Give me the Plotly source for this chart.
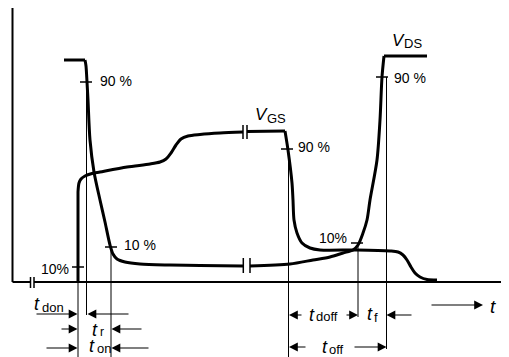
import plotly.graph_objects as go

# ---- waveform data (time units, level units; 0 = baseline) ----
vds_t1 = [64, 85]
vds_v1 = [222, 222]
vds_t2 = [85, 86, 87, 88, 90, 94, 100, 105, 110, 113, 117, 125, 140, 170, 200, 243]
vds_v2 = [222, 216, 200, 182, 142, 110, 82, 60, 37, 28, 23, 20, 18, 17, 16.5, 16]
vds_t3 = [250, 290, 313, 330, 343, 353, 358, 363, 367, 370, 377, 380, 382, 384]
vds_v3 = [16, 18, 22, 25, 29, 32, 37, 49, 62, 82, 122, 162, 205, 226]
vds_t4 = [384, 427]
vds_v4 = [226, 226]

vgs_t1 = [78, 78]
vgs_v1 = [0, 90]
vgs_t2 = [78, 79, 81, 85, 92, 100, 127, 150, 160, 166, 171, 176, 181, 188, 200, 220, 243]
vgs_v2 = [90, 99, 103, 106, 108.5, 110, 115, 118, 120, 123, 129, 137, 143, 146, 147.5, 149, 150]
vgs_t3 = [247, 285]
vgs_v3 = [150.5, 151]
vgs_t4 = [285, 288, 292, 293, 294, 297, 302, 310, 320, 357, 390, 398, 403, 407, 411, 415, 420, 427, 437]
vgs_v4 = [151, 132, 99, 82, 62, 49, 39, 34, 32, 32, 31, 30, 27, 22, 15, 9, 5, 2.5, 2]

# measurement points (time, level) for 10 % / 90 % marks
tick_t = [86, 111, 78, 287, 357, 382]
tick_v = [200, 35, 15, 133, 39, 205]
# vertical reference lines: time, top level, bottom level
ref_t = [78, 86.5, 111, 288.5, 358, 386.5]
ref_top = [15, 200, 35, 133, 39, 205]
ref_bot = [-75, -33, -75, -75, -35, -67]

fig = go.Figure()

def curve(t, v, shape="spline", w=3):
    fig.add_trace(go.Scatter(x=t, y=v, mode="lines",
                             line=dict(color="black", width=w, shape=shape, smoothing=0.8),
                             hoverinfo="skip", showlegend=False, cliponaxis=False))

curve(vds_t1, vds_v1, "linear")
curve(vds_t2, vds_v2)
curve(vds_t3, vds_v3)
curve(vds_t4, vds_v4, "linear")
curve(vgs_t1, vgs_v1, "linear")
curve(vgs_t2, vgs_v2)
curve(vgs_t3, vgs_v3, "linear")
curve(vgs_t4, vgs_v4)

shapes = []
def seg(x0, y0, x1, y1, w=1):
    shapes.append(dict(type="line", x0=x0, y0=y0, x1=x1, y1=y1, xref="x", yref="y",
                       line=dict(color="black", width=w)))

# axes
seg(12.5, 276, 12.5, 0, 2)
seg(12.5, 0, 30.5, 0, 2)
seg(34, 0, 505, 0, 2)
# axis break marks
seg(30.5, 5, 30.5, -6, 1.5)
seg(34, 5, 34, -6, 1.5)
seg(243, 157, 243, 143, 1.5)
seg(247, 157, 247, 143, 1.5)
seg(243.3, 24, 243.3, 9, 1.5)
seg(250, 24, 250, 9, 1.5)
# ticks
for t, v in zip(tick_t, tick_v):
    seg(t - 6, v, t + 6, v, 1.5)
# reference lines
for t, a, b in zip(ref_t, ref_top, ref_bot):
    seg(t, a, t, b, 1)

annotations = []
def arrow(hx, tx, y):
    annotations.append(dict(x=hx, y=y, ax=tx, ay=y, xref="x", yref="y", axref="x", ayref="y",
                            text="", showarrow=True, arrowhead=2, arrowsize=1.6,
                            arrowwidth=1.1, arrowcolor="black", standoff=0))

def label(x, y, s, size=13, anchor="center", italic=False):
    txt = f"<i>{s}</i>" if italic else s
    annotations.append(dict(x=x, y=y, xref="x", yref="y", text=txt, showarrow=False,
                            xanchor=anchor, yanchor="middle",
                            font=dict(family="Liberation Sans", size=size, color="black")))

# time annotation arrows
arrow(77.5, 35, -32); arrow(87.5, 130, -32)
arrow(77.5, 60, -47); arrow(111.5, 143, -47)
arrow(77.5, 45, -66); arrow(111.5, 150, -66)
arrow(289, 303, -33); arrow(358, 345, -33); arrow(386.5, 413, -33)
arrow(289, 307, -65); arrow(386.5, 353, -65)
arrow(483, 430, -23)

# t labels
label(36.5, -22, "t", 18, italic=True); label(39.5, -25, "don", 13, "left")
label(95, -47.5, "t", 18, italic=True); label(97.5, -50, "r", 12, "left")
label(91.5, -64, "t", 18, italic=True); label(94.5, -66.5, "on", 13, "left")
label(312, -32.5, "t", 18, italic=True); label(314, -34, "doff", 13, "left")
label(370, -32, "t", 18, italic=True); label(371.5, -35, "f", 13, "left")
label(325, -64.5, "t", 18, italic=True); label(327, -67, "off", 13, "left")
label(492.5, -24, "t", 19, italic=True)
# voltage labels
label(261.5, 168, "V", 17, italic=True); label(264.5, 163.5, "GS", 13, "left")
label(398, 242, "V", 17, italic=True); label(401.5, 238.5, "DS", 13, "left")
# percent labels
label(98, 201, "90 %", 14, "left")
label(122, 37, "10 %", 14, "left")
label(71, 13, "10%", 14, "right")
label(296, 135, "90 %", 14, "left")
label(349, 44, "10%", 14, "right")
label(392, 204, "90 %", 14, "left")

# the page body has an 8 px margin: size/offset the figure so that it fills the window
fig.update_layout(
    width=501, height=349, margin=dict(l=0, r=0, t=0, b=0),
    paper_bgcolor="white", plot_bgcolor="white",
    xaxis=dict(range=[8, 509], visible=False, fixedrange=True),
    yaxis=dict(range=[-75, 274], visible=False, fixedrange=True),
    shapes=shapes, annotations=annotations, showlegend=False,
)
fig.write_html("out.html")
